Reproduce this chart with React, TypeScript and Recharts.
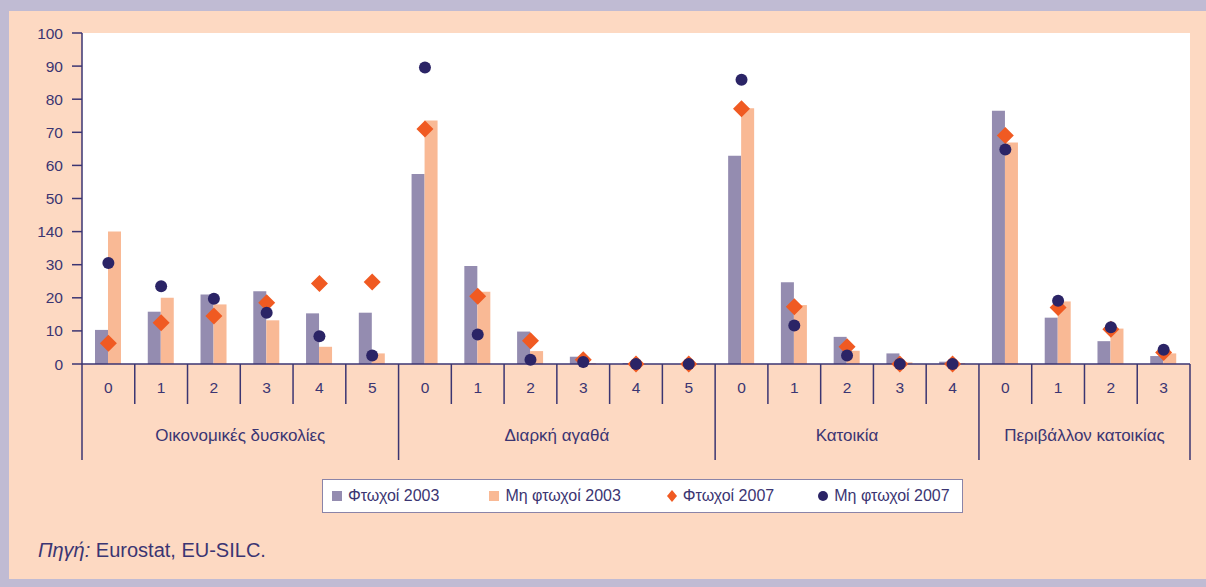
import { ComposedChart, Bar, Line, XAxis, YAxis, CartesianGrid, Legend } from 'recharts';

const categories = ['0', '1', '2', '3', '4', '5', '0', '1', '2', '3', '4', '5', '0', '1', '2', '3', '4', '0', '1', '2', '3'];
const groupNames = ['Οικονομικές δυσκολίες', 'Διαρκή αγαθά', 'Κατοικία', 'Περιβάλλον κατοικίας'];
const groupSizes = [6, 6, 5, 4];

const poor2003 = [10.3, 15.8, 21, 22, 15.3, 15.5, 57.4, 29.6, 9.8, 2.2, 0.3, 0, 62.9, 24.7, 8.2, 3.2, 0.7, 76.5, 14, 6.9, 2.4];
const nonPoor2003 = [40, 20, 18, 13.2, 5.2, 3.2, 73.6, 21.8, 3.9, 0.3, 0, 0, 77.3, 17.8, 4, 0.5, 0.3, 66.9, 18.9, 10.7, 3.2];
const poor2007 = [6.3, 12.5, 14.5, 18.5, 24.3, 24.8, 71, 20.5, 7, 1.3, 0, 0, 77.1, 17.3, 5.2, 0, 0, 69, 17.1, 10.5, 3.5];
const nonPoor2007 = [30.5, 23.5, 19.7, 15.5, 8.4, 2.6, 89.6, 8.9, 1.3, 0.6, 0, 0, 85.9, 11.6, 2.6, 0, 0, 64.8, 19.1, 11.1, 4.3];

const yTicks = [0, 10, 20, 30, 40, 50, 60, 70, 80, 90, 100];

const seriesNames = ['Φτωχοί 2003', 'Μη φτωχοί 2003', 'Φτωχοί 2007', 'Μη φτωχοί 2007'];

const INK = '#3b3572';
const FONT = '"Liberation Sans", Arial, Helvetica, sans-serif';
const C_POOR03 = '#948cb0';
const C_NONPOOR03 = '#f9b995';
const C_POOR07 = '#f05a22';
const C_NONPOOR07 = '#2b2466';

const W = 1206;
const H = 520;
const PLOT_LEFT = 82;
const PLOT_RIGHT = 1190;
const BAND = (PLOT_RIGHT - PLOT_LEFT) / categories.length;

const data = categories.map((c, i) => ({
  id: `c${i}`,
  label: c,
  poor2003: poor2003[i],
  nonPoor2003: nonPoor2003[i],
  poor2007: poor2007[i],
  nonPoor2007: nonPoor2007[i],
}));

// index where each group starts
const groupStarts: number[] = [];
groupSizes.reduce((acc, n) => {
  groupStarts.push(acc);
  return acc + n;
}, 0);

function CategoryTick(props: any) {
  const { x, y, payload } = props;
  const i = payload.index;
  const left = x - BAND / 2;
  const g = groupStarts.indexOf(i);
  const isLast = i === categories.length - 1;
  return (
    <g>
      <line x1={left} y1={y} x2={left} y2={g >= 0 ? y + 96 : y + 40} stroke={INK} strokeWidth={1.5} />
      {isLast && <line x1={x + BAND / 2} y1={y} x2={x + BAND / 2} y2={y + 96} stroke={INK} strokeWidth={1.5} />}
      <text x={x} y={y + 29} textAnchor="middle" fill={INK} fontSize={15.5} fontFamily={FONT}>
        {categories[i]}
      </text>
      {g >= 0 && (
        <text
          x={left + (groupSizes[g] * BAND) / 2}
          y={y + 77}
          textAnchor="middle"
          fill={INK}
          fontSize={17}
          fontFamily={FONT}
        >
          {groupNames[g]}
        </text>
      )}
    </g>
  );
}

function Diamond(props: any) {
  const { cx, cy, index } = props;
  if (cx == null || cy == null) return <g key={`d${index}`} />;
  const r = 8.5;
  return (
    <polygon
      key={`d${index}`}
      points={`${cx},${cy - r} ${cx + r},${cy} ${cx},${cy + r} ${cx - r},${cy}`}
      fill={C_POOR07}
    />
  );
}

function Dot(props: any) {
  const { cx, cy, index } = props;
  if (cx == null || cy == null) return <g key={`o${index}`} />;
  return <circle key={`o${index}`} cx={cx} cy={cy} r={6} fill={C_NONPOOR07} />;
}

const legendGaps = [9, 50, 46, 44];

function LegendBox() {
  const icons = [
    <span style={{ display: 'inline-block', width: 10, height: 10, background: C_POOR03 }} />,
    <span style={{ display: 'inline-block', width: 10, height: 10, background: C_NONPOOR03 }} />,
    <svg width={10} height={12}>
      <polygon points="5,0 10,6 5,12 0,6" fill={C_POOR07} />
    </svg>,
    <svg width={10} height={10}>
      <circle cx={5} cy={5} r={5} fill={C_NONPOOR07} />
    </svg>,
  ];
  return (
    <div
      style={{
        width: 639,
        height: 32,
        border: '1px solid #8a84a8',
        background: '#ffffff',
        display: 'flex',
        alignItems: 'center',
        boxSizing: 'content-box',
        fontFamily: FONT,
        fontSize: 16,
        color: INK,
        whiteSpace: 'nowrap',
      }}
    >
      {seriesNames.map((name, i) => (
        <span
          key={name}
          style={{ display: 'flex', alignItems: 'center', marginLeft: legendGaps[i], gap: 6 }}
        >
          {icons[i]}
          {name}
        </span>
      ))}
    </div>
  );
}

export default function App() {
  return (
    <div style={{ position: 'absolute', left: 0, top: 0, width: W, height: 587, background: '#c0bbd3' }}>
      <div style={{ position: 'absolute', left: 9, top: 11, width: W - 9, height: 568, background: '#fdd9c2' }} />
      <div style={{ position: 'absolute', left: 0, top: 0 }}>
        <ComposedChart
          width={W}
          height={H}
          data={data}
          margin={{ top: 33, right: W - PLOT_RIGHT, bottom: 0, left: 0 }}
          barGap={0}
          barCategoryGap="25%"
        >
          <CartesianGrid fill="#ffffff" stroke="none" horizontal={false} vertical={false} />
          <XAxis
            dataKey="id"
            height={H - 364}
            interval={0}
            tickSize={0}
            tickMargin={0}
            axisLine={{ stroke: INK, strokeWidth: 1.5 }}
            tickLine={false}
            tick={<CategoryTick />}
          />
          <YAxis
            width={PLOT_LEFT}
            domain={[0, 100]}
            ticks={yTicks}
            interval={0}
            tickSize={10}
            tickMargin={9}
            axisLine={{ stroke: INK, strokeWidth: 1.5 }}
            tickLine={{ stroke: INK, strokeWidth: 1.5 }}
            tick={{ fill: INK, fontSize: 15.5, fontFamily: FONT }}
            tickFormatter={(v: number) => (v === 40 ? '140' : String(v))}
          />
          <Legend
            layout="horizontal"
            verticalAlign="middle"
            align="center"
            wrapperStyle={{ left: 322, top: 479, width: 641 }}
            content={() => <LegendBox />}
          />
          <Bar dataKey="poor2003" name={seriesNames[0]} fill={C_POOR03} barSize={13} isAnimationActive={false} />
          <Bar dataKey="nonPoor2003" name={seriesNames[1]} fill={C_NONPOOR03} barSize={13} isAnimationActive={false} />
          <Line
            dataKey="poor2007"
            name={seriesNames[2]}
            stroke="none"
            dot={<Diamond />}
            activeDot={false}
            isAnimationActive={false}
          />
          <Line
            dataKey="nonPoor2007"
            name={seriesNames[3]}
            stroke="none"
            dot={<Dot />}
            activeDot={false}
            isAnimationActive={false}
          />
        </ComposedChart>
      </div>
      <div
        style={{
          position: 'absolute',
          left: 38,
          top: 539,
          fontFamily: FONT,
          fontSize: 20,
          color: INK,
        }}
      >
        <i>Πηγή:</i> Eurostat, EU-SILC.
      </div>
    </div>
  );
}
